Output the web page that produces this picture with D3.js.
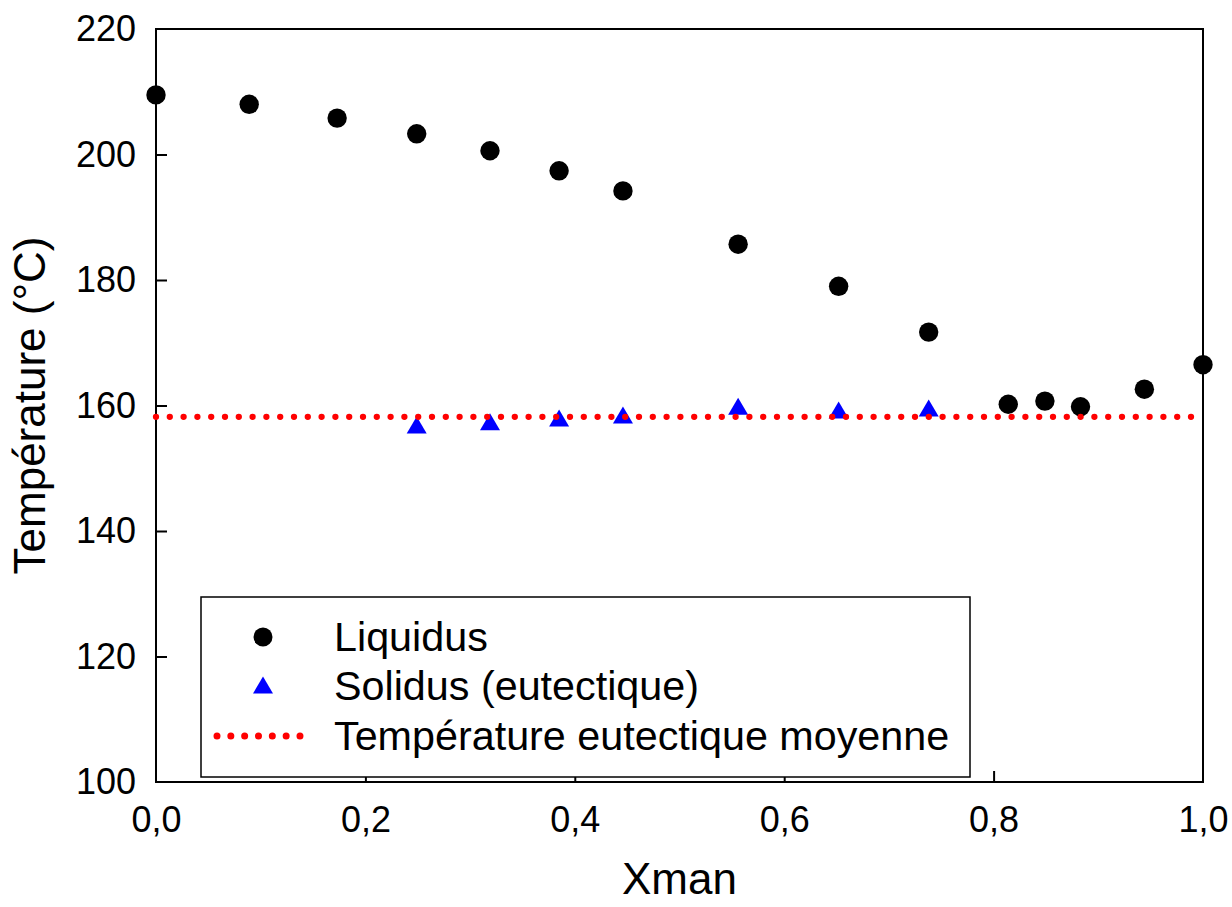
<!DOCTYPE html>
<html>
<head>
<meta charset="utf-8">
<script src="https://cdn.jsdelivr.net/npm/d3@7"></script>
<style>
  body { margin: 0; background: #fff; }
  text { font-family: Arial, "Liberation Sans", sans-serif; fill: #000; }
</style>
</head>
<body>
<svg id="chart"></svg>
<script>
// data
const liquidusX = [0.0, 0.089, 0.173, 0.249, 0.319, 0.385, 0.446, 0.556, 0.652, 0.738, 0.814, 0.849, 0.883, 0.944, 1.0];
const liquidusT = [209.5, 208.0, 205.8, 203.3, 200.6, 197.4, 194.2, 185.7, 179.0, 171.7, 160.2, 160.7, 159.8, 162.6, 166.5];
const solidusX = [0.249, 0.319, 0.385, 0.446, 0.556, 0.652, 0.738];
const solidusT = [156.9, 157.4, 158.0, 158.5, 159.9, 159.3, 159.6];
const eutecticT = 158.2;
const xTicks = [0, 0.2, 0.4, 0.6, 0.8, 1.0];
const yTicks = [100, 120, 140, 160, 180, 200, 220];
const legendLabels = ["Liquidus", "Solidus (eutectique)", "Température eutectique moyenne"];

const W = 1232, H = 907;
const margin = { top: 29, right: 29, bottom: 125, left: 156 };
const width = W - margin.left - margin.right;
const height = H - margin.top - margin.bottom;

const svg = d3.select("#chart").attr("width", W).attr("height", H);
const chart = svg.append("g").attr("transform", `translate(${margin.left},${margin.top})`);

const x = d3.scaleLinear().domain([0, 1]).range([0, width]);
const y = d3.scaleLinear().domain([100, 220]).range([height, 0]);

const fmt = d => d3.format(".1f")(d).replace(".", ",");

// frame
chart.append("rect")
  .attr("width", width).attr("height", height)
  .attr("fill", "none").attr("stroke", "#000").attr("stroke-width", 2);

// axes, ticks pointing inward
const xAxis = chart.append("g")
  .attr("transform", `translate(0,${height})`)
  .call(d3.axisBottom(x).tickValues(xTicks).tickFormat(fmt).tickSizeInner(-11).tickSizeOuter(0).tickPadding(24));
const yAxis = chart.append("g")
  .call(d3.axisLeft(y).tickValues(yTicks).tickSizeInner(-11).tickSizeOuter(0).tickPadding(20));

[xAxis, yAxis].forEach(a => {
  a.select(".domain").remove();
  a.selectAll("line").attr("stroke", "#000").attr("stroke-width", 2);
  a.selectAll("text").style("font-size", "36px").style("font-family", "Arial, 'Liberation Sans', sans-serif");
});
// no tick lines on the frame corners
xAxis.selectAll(".tick").filter(d => d === 0 || d === 1).select("line").remove();
yAxis.selectAll(".tick").filter(d => d === 100 || d === 220).select("line").remove();

// axis titles
svg.append("text")
  .attr("x", margin.left + width / 2).attr("y", 894)
  .attr("text-anchor", "middle").style("font-size", "44px")
  .text("Xman");
svg.append("text")
  .attr("transform", `translate(45,${margin.top + height / 2}) rotate(-90)`)
  .attr("text-anchor", "middle").style("font-size", "44px")
  .text("Température (°C)");

const liquidus = liquidusX.map((v, i) => ({ x: v, t: liquidusT[i] }));
const solidus = solidusX.map((v, i) => ({ x: v, t: solidusT[i] }));

// triangle centred on its bounding box
const triPath = (w, h) => `M0,${-h / 2}L${w / 2},${h / 2}L${-w / 2},${h / 2}Z`;

chart.selectAll(".liq").data(liquidus).enter().append("circle")
  .attr("cx", d => x(d.x)).attr("cy", d => y(d.t)).attr("r", 9.7).attr("fill", "#000");

chart.selectAll(".sol").data(solidus).enter().append("path")
  .attr("d", triPath(20, 17))
  .attr("transform", d => `translate(${x(d.x)},${y(d.t)})`)
  .attr("fill", "#0000ff");

// mean eutectic temperature, dotted
chart.append("line")
  .attr("x1", x(0)).attr("x2", x(1) - 10)
  .attr("y1", y(eutecticT)).attr("y2", y(eutecticT))
  .attr("stroke", "#ff0000").attr("stroke-width", 6.3)
  .attr("stroke-linecap", "round").attr("stroke-dasharray", "0,13.8");

// legend
const lg = svg.append("g");
lg.append("rect")
  .attr("x", 201).attr("y", 597).attr("width", 769).attr("height", 180)
  .attr("fill", "#fff").attr("stroke", "#000").attr("stroke-width", 1.5);
const rowY = [637, 686, 736];
lg.append("circle").attr("cx", 263).attr("cy", rowY[0]).attr("r", 9.5).attr("fill", "#000");
lg.append("path").attr("d", triPath(20, 17))
  .attr("transform", `translate(263,${rowY[1] - 1})`).attr("fill", "#0000ff");
lg.append("line")
  .attr("x1", 217).attr("x2", 300).attr("y1", rowY[2]).attr("y2", rowY[2])
  .attr("stroke", "#ff0000").attr("stroke-width", 7)
  .attr("stroke-linecap", "round").attr("stroke-dasharray", "0,13.83");
lg.selectAll(".lt").data(legendLabels).enter().append("text")
  .attr("x", 334).attr("y", (d, i) => rowY[i])
  .attr("dominant-baseline", "central")
  .style("font-size", "41.3px")
  .text(d => d);
</script>
</body>
</html>
